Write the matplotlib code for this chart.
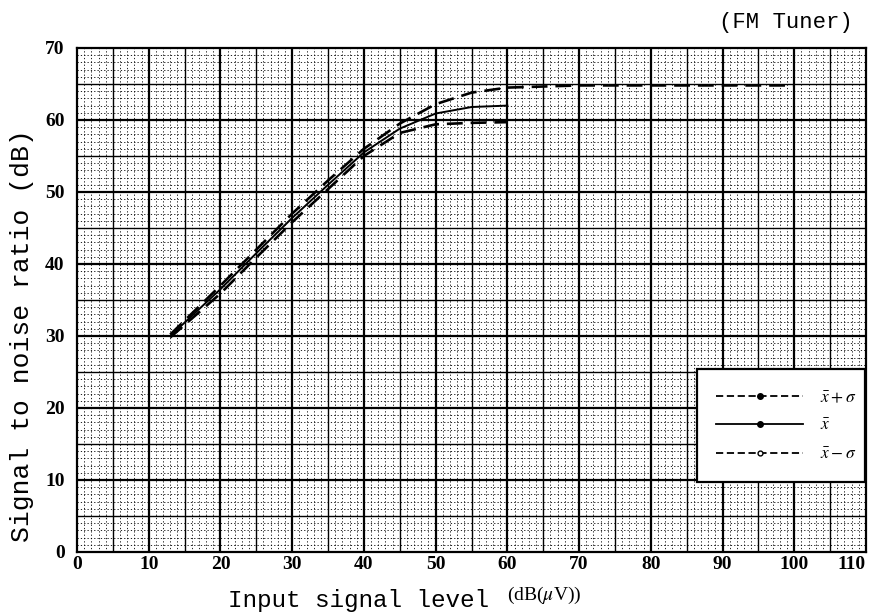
import matplotlib
matplotlib.use("Agg")
import matplotlib.pyplot as plt
from matplotlib.lines import Line2D
import numpy as np

plt.rcParams["mathtext.fontset"] = "stix"

# ---- data ----
x_levels = [13, 20, 25, 30, 35, 40, 45, 50, 55, 60]
snr_plus = [30.2, 37.0, 42.0, 47.0, 51.6, 56.0, 59.5, 62.2, 63.8, 64.5]
x_plus_tail = [70, 80, 90, 100]
snr_plus_tail = [64.8, 64.8, 64.8, 64.8]
snr_mean = [30.0, 36.5, 41.5, 46.4, 51.0, 55.5, 58.8, 60.9, 61.8, 62.0]
snr_minus = [29.8, 35.9, 40.9, 45.8, 50.4, 55.0, 58.2, 59.4, 59.6, 59.7]

x_ticks = [0, 10, 20, 30, 40, 50, 60, 70, 80, 90, 100, 110]
y_ticks = [0, 10, 20, 30, 40, 50, 60, 70]
legend_labels = [r"$\bar{x}+\sigma$", r"$\bar{x}$", r"$\bar{x}-\sigma$"]

fig = plt.figure(figsize=(8.76, 6.16), dpi=100)
ax = fig.add_axes([0.0879, 0.1039, 0.9007, 0.8182])
ax.set_xlim(0, 110)
ax.set_ylim(0, 70)

# graph-paper grid
for v in np.arange(1, 110, 1):
    if v % 5 == 0:
        continue
    ax.axvline(v, color="black", lw=0.6, ls=(0, (1.5, 2.5)), zorder=1)
for v in np.arange(1, 70, 1):
    if v % 5 == 0:
        continue
    ax.axhline(v, color="black", lw=0.6, ls=(0, (1.5, 2.5)), zorder=1)
for v in np.arange(5, 110, 5):
    ax.axvline(v, color="black", lw=1.6 if v % 10 == 0 else 1.0, zorder=1)
for v in np.arange(5, 70, 5):
    ax.axhline(v, color="black", lw=1.6 if v % 10 == 0 else 1.0, zorder=1)

# curves
ax.plot(x_levels + x_plus_tail, snr_plus + snr_plus_tail, color="black",
        lw=1.9, ls=(0, (6, 3)), zorder=3)
ax.plot(x_levels, snr_mean, color="black", lw=1.4, zorder=3)
ax.plot(x_levels, snr_minus, color="black", lw=1.9, ls=(0, (6, 3)), zorder=3)

for s in ax.spines.values():
    s.set_linewidth(1.6)

tick_font = {"family": "Liberation Serif", "weight": "bold", "size": 14}
ax.set_xticks(x_ticks)
ax.set_xticklabels([str(t) for t in x_ticks], fontdict=tick_font)
ax.get_xticklabels()[-1].set_horizontalalignment("right")
ax.set_yticks(y_ticks)
ax.set_yticklabels([str(t) for t in y_ticks], fontdict=tick_font)
ax.tick_params(axis="x", length=0, pad=3)
ax.tick_params(axis="y", length=0, pad=9)

handles = [
    Line2D([], [], color="black", lw=1.3, ls=(0, (4, 2)), marker="o", ms=4),
    Line2D([], [], color="black", lw=1.3, marker="o", ms=4),
    Line2D([], [], color="black", lw=1.3, ls=(0, (4, 2)), marker="o", ms=3.5,
           markerfacecolor="white"),
]
leg = ax.legend(handles, legend_labels, loc="lower left",
                bbox_to_anchor=(0.786, 0.139, 0.2127, 0.22), mode="expand",
                handlelength=5.0, numpoints=1, fontsize=12.5, frameon=True,
                fancybox=False, edgecolor="black", framealpha=1,
                borderaxespad=0, labelspacing=0.6, handletextpad=1.0,
                borderpad=1.1)
leg.get_frame().set_linewidth(1.6)
leg.set_zorder(5)

ax.set_ylabel("Signal to noise ratio (dB)", fontfamily="Liberation Mono",
              fontsize=19)
ax.yaxis.set_label_coords(-0.055, 0.43)
fig.text(0.409, 0.025, "Input signal level", fontfamily="Liberation Mono",
         fontsize=17.5, ha="center", va="center")
fig.text(0.579, 0.034, r"(dB($\mu$V))", fontfamily="Liberation Serif",
         fontsize=14, ha="left", va="center")
fig.text(0.974, 0.964, "(FM Tuner)", fontfamily="Liberation Mono",
         fontsize=16, ha="right", va="center")

fig.savefig("out.png", dpi=100)
